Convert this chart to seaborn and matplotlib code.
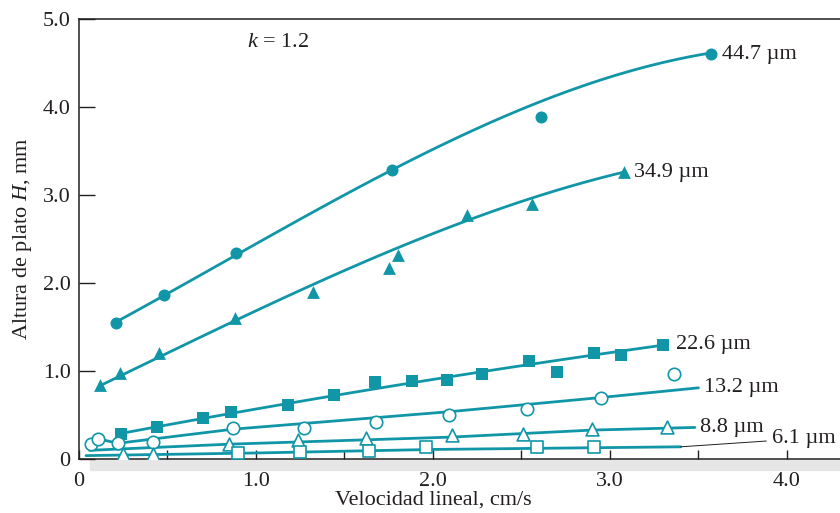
# ==========================================================
# Altura de plato H vs velocidad lineal (k = 1.2)
# ==========================================================

import matplotlib
matplotlib.use("Agg")

import matplotlib.pyplot as plt
from matplotlib.patches import Rectangle
import seaborn as sns

# ==========================================================
# Datos
# ==========================================================

labels = ["44.7 µm", "34.9 µm", "22.6 µm", "13.2 µm", "8.8 µm", "6.1 µm"]

# puntos experimentales
pts_x_447 = [0.21, 0.48, 0.89, 1.77, 2.61, 3.57]
pts_y_447 = [1.55, 1.86, 2.34, 3.28, 3.89, 4.60]

pts_x_349 = [0.12, 0.23, 0.45, 0.88, 1.32, 1.75, 1.80, 2.19, 2.56, 3.08]
pts_y_349 = [0.84, 0.98, 1.20, 1.60, 1.90, 2.17, 2.32, 2.77, 2.90, 3.26]

pts_x_226 = [0.24, 0.44, 0.70, 0.86, 1.18, 1.44, 1.67, 1.88, 2.08,
             2.28, 2.54, 2.70, 2.91, 3.06, 3.30]
pts_y_226 = [0.29, 0.37, 0.47, 0.53, 0.62, 0.73, 0.88, 0.89, 0.90,
             0.97, 1.12, 0.99, 1.21, 1.18, 1.30]

pts_x_132 = [0.07, 0.11, 0.22, 0.42, 0.87, 1.27, 1.68, 2.09, 2.53, 2.95, 3.36]
pts_y_132 = [0.17, 0.23, 0.18, 0.20, 0.35, 0.35, 0.42, 0.50, 0.57, 0.70, 0.97]

pts_x_88 = [0.25, 0.42, 0.85, 1.24, 1.62, 2.11, 2.51, 2.90, 3.32]
pts_y_88 = [0.06, 0.06, 0.17, 0.22, 0.24, 0.27, 0.29, 0.34, 0.36]

pts_x_61 = [0.90, 1.25, 1.64, 1.96, 2.59, 2.91]
pts_y_61 = [0.07, 0.08, 0.09, 0.14, 0.14, 0.14]

# curvas ajustadas (trazo del original)
crv_x_447 = [0.21, 0.48, 0.89, 1.33, 1.77, 2.08, 2.45, 2.83, 3.21, 3.57]
crv_y_447 = [1.55, 1.86, 2.34, 2.81, 3.28, 3.59, 3.92, 4.24, 4.48, 4.60]

crv_x_349 = [0.12, 0.57, 1.32, 1.80, 2.27, 2.65, 3.08]
crv_y_349 = [0.84, 1.26, 2.00, 2.39, 2.76, 3.03, 3.26]

crv_x_226 = [0.24, 0.86, 1.50, 2.08, 2.60, 3.30]
crv_y_226 = [0.29, 0.52, 0.75, 0.93, 1.08, 1.30]

crv_x_132 = [0.07, 0.11, 0.22, 0.87, 2.10, 2.95, 3.50]
crv_y_132 = [0.17, 0.23, 0.18, 0.34, 0.54, 0.70, 0.81]

crv_x_88 = [0.06, 0.85, 2.10, 2.90, 3.48]
crv_y_88 = [0.10, 0.17, 0.25, 0.33, 0.36]

crv_x_61 = [0.04, 1.00, 2.00, 3.40]
crv_y_61 = [0.04, 0.07, 0.11, 0.14]

x_ticks = [0, 1, 2, 3, 4]
x_tick_labels = ["0", "1.0", "2.0", "3.0", "4.0"]
x_minor = [0.5, 1.5, 2.5, 3.5]
y_ticks = [0, 1, 2, 3, 4, 5]
y_tick_labels = ["0", "1.0", "2.0", "3.0", "4.0", "5.0"]

# ==========================================================
# Estilo
# ==========================================================

sns.set_style("ticks")

plt.rcParams["font.family"] = ["Liberation Serif", "DejaVu Serif"]
plt.rcParams["mathtext.fontset"] = "custom"
plt.rcParams["mathtext.rm"] = "Liberation Serif"
plt.rcParams["mathtext.it"] = "Liberation Serif:italic"

TEAL = "#1196a8"
INK = "#231f20"
FS = 16

# ==========================================================
# Figura
# ==========================================================

fig = plt.figure(figsize=(8.4, 5.13), dpi=100)
ax = fig.add_axes([0.094, 0.105, 0.906, 0.858])

# (curva x, curva y, puntos x, puntos y, marcador, relleno, tamano,
#  orden del ajuste (0 = trazo directo), desplazamiento etiqueta)
series = [
    (crv_x_447, crv_y_447, pts_x_447, pts_y_447, "o", True, 75, 3, (8, 0)),
    (crv_x_349, crv_y_349, pts_x_349, pts_y_349, "^", True, 85, 3, (7, 0)),
    (crv_x_226, crv_y_226, pts_x_226, pts_y_226, "s", True, 70, 2, (9, 0)),
    (crv_x_132, crv_y_132, pts_x_132, pts_y_132, "o", False, 80, 0, (4, 0)),
    (crv_x_88, crv_y_88, pts_x_88, pts_y_88, "^", False, 85, 0, (4, 0)),
    (crv_x_61, crv_y_61, pts_x_61, pts_y_61, "s", False, 75, 0, None),
]

for (cx, cy, px, py, mk, filled, size, order, off), lab in zip(series, labels):

    if order > 0:
        sns.regplot(
            x=cx,
            y=cy,
            ax=ax,
            order=order,
            ci=None,
            scatter=False,
            truncate=True,
            color=TEAL,
            line_kws={"linewidth": 2.0, "zorder": 2}
        )
    else:
        sns.lineplot(
            x=cx,
            y=cy,
            ax=ax,
            color=TEAL,
            linewidth=2.0,
            sort=False,
            estimator=None,
            zorder=2
        )

    sns.scatterplot(
        x=px,
        y=py,
        ax=ax,
        marker=mk,
        s=size,
        color=TEAL if filled else "white",
        edgecolor=TEAL,
        linewidth=0 if filled else 1.2,
        zorder=3
    )

    if off is not None:
        ax.annotate(
            lab,
            xy=(cx[-1], cy[-1]),
            xytext=off,
            textcoords="offset points",
            ha="left",
            va="center",
            fontsize=FS,
            color=INK
        )

# 6.1 µm con linea guia
ax.annotate(
    labels[5],
    xy=(crv_x_61[-1], crv_y_61[-1]),
    xytext=(66, 6),
    textcoords="offset points",
    ha="left",
    va="center",
    fontsize=FS,
    color=INK,
    arrowprops=dict(arrowstyle="-", color=INK, lw=0.7,
                    shrinkA=2, shrinkB=0)
)

ax.text(0.95, 4.73, "$k$ = 1.2", ha="left", va="center",
        fontsize=FS, color=INK)

# ==========================================================
# Ejes
# ==========================================================

ax.set_xlim(0, 4.30)
ax.set_ylim(0, 5.0)

ax.set_xticks(x_ticks)
ax.set_xticklabels(x_tick_labels)
ax.set_xticks(x_minor, minor=True)
ax.set_yticks(y_ticks)
ax.set_yticklabels(y_tick_labels)

ax.tick_params(axis="x", which="both", direction="in", length=6.5,
               width=1, pad=9, labelsize=FS, colors=INK)
ax.tick_params(axis="y", direction="in", length=11.5, width=1,
               pad=6, labelsize=FS, colors=INK)

for side in ["left", "top", "bottom"]:
    ax.spines[side].set_color(INK)
    ax.spines[side].set_linewidth(1.1)
ax.spines["right"].set_visible(False)

ax.set_xlabel("Velocidad lineal, cm/s", fontsize=FS, color=INK,
              labelpad=0, x=0.465)
ax.set_ylabel("Altura de plato $H$, mm", fontsize=FS, color=INK,
              labelpad=6)

# sombra bajo el eje x
fig.patches.append(Rectangle((0.107, 0.084), 0.893, 0.019,
                             transform=fig.transFigure,
                             color="#e6e6e6", zorder=-1))

plt.savefig("out.png", dpi=100)
